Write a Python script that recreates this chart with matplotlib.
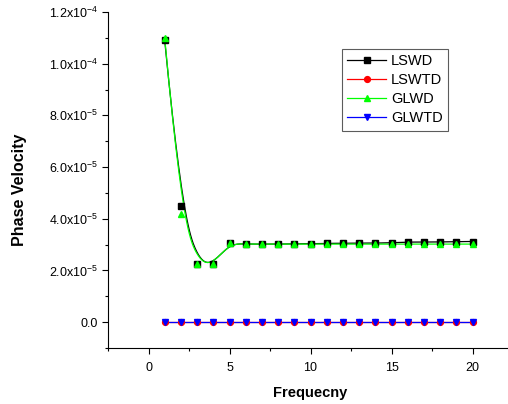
import numpy as np
import matplotlib
matplotlib.use("Agg")
import matplotlib.pyplot as plt
from matplotlib.ticker import MultipleLocator, FuncFormatter

plt.rcParams['font.family'] = ['Liberation Sans', 'DejaVu Sans']
plt.rcParams['mathtext.fontset'] = 'custom'
plt.rcParams['mathtext.rm'] = 'Liberation Sans'
plt.rcParams['mathtext.it'] = 'Liberation Sans:italic'
plt.rcParams['mathtext.bf'] = 'Liberation Sans:bold'

freq = list(range(1, 21))
lswd = [1.09e-4, 4.48e-5, 2.25e-5, 2.25e-5, 3.05e-5,
        3.02e-5, 3.02e-5, 3.02e-5, 3.03e-5, 3.03e-5,
        3.05e-5, 3.05e-5, 3.05e-5, 3.06e-5, 3.07e-5,
        3.1e-5, 3.1e-5, 3.1e-5, 3.12e-5, 3.12e-5]
lswtd = [0.0] * 20
glwd = [1.1e-4, 4.2e-5, 2.25e-5, 2.25e-5, 3.05e-5,
        3.02e-5, 3.02e-5, 3.02e-5, 3.02e-5, 3.02e-5,
        3.02e-5, 3.02e-5, 3.02e-5, 3.02e-5, 3.02e-5,
        3.02e-5, 3.02e-5, 3.02e-5, 3.02e-5, 3.02e-5]
glwtd = [0.0] * 20

series_names = ['LSWD', 'LSWTD', 'GLWD', 'GLWTD']


def bspline_curve(x, y, n=600, k=3):
    """Clamped cubic B-spline using the data points as control points
    (Origin's 'B-Spline' line connection)."""
    P = np.column_stack([np.asarray(x, float), np.asarray(y, float)])
    m = len(P)
    inner = np.arange(1, m - k)
    knots = np.concatenate([np.zeros(k + 1), inner, np.full(k + 1, m - k)]).astype(float)
    ts = np.linspace(0, m - k, n)
    ts[-1] -= 1e-9

    def basis(i, p, t):
        if p == 0:
            return np.where((knots[i] <= t) & (t < knots[i + 1]), 1.0, 0.0)
        out = np.zeros_like(t)
        d1 = knots[i + p] - knots[i]
        d2 = knots[i + p + 1] - knots[i + 1]
        if d1 > 0:
            out += (t - knots[i]) / d1 * basis(i, p - 1, t)
        if d2 > 0:
            out += (knots[i + p + 1] - t) / d2 * basis(i + 1, p - 1, t)
        return out

    B = np.column_stack([basis(i, k, ts) for i in range(m)])
    C = B @ P
    return C[:, 0], C[:, 1]


fig = plt.figure(figsize=(5.08, 4.04), dpi=100)
ax = fig.add_axes([108 / 508, 1 - 348 / 404, 405 / 508, 336 / 404])

styles = [
    (lswd, 'black', 's', 4.0),
    (lswtd, 'red', 'o', 4.2),
    (glwd, '#00ff00', '^', 5.0),
    (glwtd, 'blue', 'v', 5.0),
]
for (vals, col, mk, ms), name in zip(styles, series_names):
    xs, ys = bspline_curve(freq, vals)
    ax.plot(xs, ys, color=col, lw=0.9, zorder=2)
    ax.plot(freq, vals, linestyle='none', marker=mk, color=col, ms=ms, zorder=3)
    ax.plot([], [], color=col, lw=0.9, marker=mk, ms=ms, label=name)

ax.set_xlim(-2.5, 22.5)
ax.set_ylim(-1e-5, 1.2e-4)
ax.xaxis.set_major_locator(MultipleLocator(5))
ax.xaxis.set_minor_locator(MultipleLocator(2.5))
ax.yaxis.set_major_locator(MultipleLocator(2e-5))
ax.yaxis.set_minor_locator(MultipleLocator(1e-5))


def yfmt(v, pos):
    if abs(v) < 1e-12:
        return '0.0'
    e = int(np.floor(np.log10(abs(v))))
    mant = v / 10 ** e
    return '%.1fx10$^{%d}$' % (mant, e)


ax.yaxis.set_major_formatter(FuncFormatter(yfmt))
ax.spines['top'].set_visible(False)
ax.spines['right'].set_visible(False)
ax.tick_params(which='major', direction='out', length=4, width=0.8, labelsize=9)
ax.tick_params(axis='y', which='major', pad=3)
ax.tick_params(axis='x', which='major', pad=6)
ax.tick_params(which='minor', direction='out', length=2.5, width=0.8)
ax.set_xlabel('Frequecny', fontsize=10.5, fontweight='bold', labelpad=9)
ax.set_ylabel('Phase Velocity', fontsize=11.5, fontweight='bold')
ax.yaxis.set_label_coords(-(108 - 27) / 405, (348 - 189.5) / 336)

leg = ax.legend(loc='upper left', bbox_to_anchor=((342 - 108) / 405, (348 - 49) / 336),
                borderaxespad=0, fontsize=10.5, frameon=True, fancybox=False,
                edgecolor='#333333', handlelength=2.7, handletextpad=0.3,
                labelspacing=0.35, borderpad=0.35)
leg.get_frame().set_linewidth(0.8)

fig.savefig('out.png', dpi=100)
